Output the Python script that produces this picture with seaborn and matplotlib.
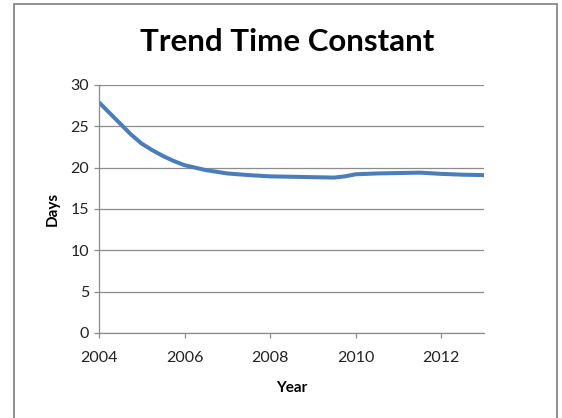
import numpy as np
import pandas as pd
import seaborn as sns
import matplotlib.pyplot as plt
from matplotlib.patches import Rectangle

# values
years = [2004, 2004.25, 2004.5, 2004.75, 2005, 2005.25, 2005.5, 2005.75, 2006,
         2006.5, 2007, 2007.5, 2008, 2008.5, 2009, 2009.5, 2009.75, 2010,
         2010.5, 2011, 2011.5, 2012, 2012.5, 2013]
days = [27.9, 26.6, 25.3, 24.0, 22.9, 22.1, 21.4, 20.8, 20.3,
        19.7, 19.3, 19.1, 18.95, 18.9, 18.85, 18.8, 18.95, 19.2,
        19.3, 19.35, 19.4, 19.25, 19.15, 19.1]
x_ticks = [2004, 2006, 2008, 2010, 2012]
y_ticks = [0, 5, 10, 15, 20, 25, 30]
title = "Trend Time Constant"

df = pd.DataFrame({"Year": years, "Days": days})

sns.set_theme(style="white")
plt.rcParams['font.family'] = ['Lato', 'DejaVu Sans']

W, H = 562, 418
fig = plt.figure(figsize=(W / 100, H / 100), dpi=100)
fig.set_facecolor('white')

# chart frame (bottom edge runs off the image)
fig.patches.append(Rectangle((14 / W, -0.05), (557 - 14) / W, 1 - 4 / H + 0.05,
                             transform=fig.transFigure, fill=False,
                             edgecolor='#878787', linewidth=1.3))

ax = fig.add_axes([99 / W, 1 - 333 / H, (484 - 99) / W, (333 - 85) / H])
sns.lineplot(data=df, x="Year", y="Days", ax=ax, color='#4a7ebb', linewidth=2.9)

ax.set_xlim(2004, 2013)
ax.set_ylim(0, 30)
ax.set_xticks(x_ticks)
ax.set_yticks(y_ticks)
ax.yaxis.grid(True, color='#8c8c8c', linewidth=0.9)
ax.xaxis.grid(False)
for s in ['top', 'right']:
    ax.spines[s].set_visible(False)
for s in ['left', 'bottom']:
    ax.spines[s].set_color('#8c8c8c')
    ax.spines[s].set_linewidth(0.9)
ax.tick_params(axis='both', which='major', length=3.5, width=0.9, color='#8c8c8c',
               labelsize=11.5, labelcolor='#222222', direction='out',
               bottom=True, left=True)
ax.tick_params(axis='y', pad=3.5)
ax.tick_params(axis='x', pad=9.5)

ax.set_xlabel("Year", fontsize=11, fontweight='bold', color='black', labelpad=11.5)
ax.set_ylabel("Days", fontsize=11, fontweight='bold', color='black', labelpad=8)

fig.text(287 / W, 1 - 42 / H, title, ha='center', va='center',
         fontsize=22.5, fontweight='bold', color='black')

fig.savefig("out.png", dpi=100, facecolor='white')
